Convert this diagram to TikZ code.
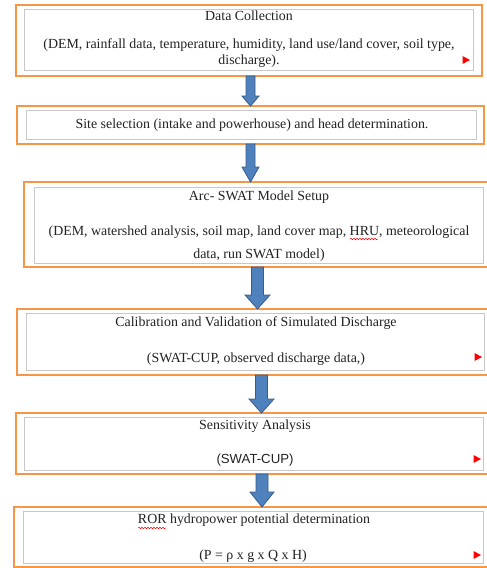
\documentclass[tikz,border=0pt]{standalone}
\usepackage{fontspec}
\setmainfont{Liberation Serif}
\newfontfamily\uisans{Liberation Sans}
\usetikzlibrary{calc,decorations.pathmorphing}
\definecolor{boxorange}{HTML}{F79646}
\definecolor{innergray}{HTML}{C8C8C8}
\definecolor{arrfill}{HTML}{4F81BD}
\definecolor{arrline}{HTML}{385D8A}
\definecolor{txt}{HTML}{222222}
\tikzset{
  outerbox/.style={draw=boxorange, line width=2pt, inner sep=0pt, outer sep=0pt, rectangle},
  innerbox/.style={draw=innergray, line width=1pt, inner sep=0pt, outer sep=0pt, rectangle, fill=white},
  txtline/.style={inner sep=0pt, anchor=mid, text=txt, font=\fontsize{13.9}{16}\selectfont},
  sansline/.style={inner sep=0pt, anchor=mid, text=txt, font=\uisans\fontsize{13.2}{15}\selectfont},
  barrow/.style={fill=arrfill, draw=arrline, line width=0.8pt, line join=miter},
  redtri/.style={fill=red, draw=none},
  squiggle/.style={draw=red, line width=0.5pt, decorate, decoration={snake, amplitude=0.8pt, segment length=3pt}}
}
% #1 from node, #2 to node, #3 x, #4 shaft half width, #5 head half width, #6 head length
\newcommand\blockarr[6]{%
  \draw[barrow] let \p1=(#1.south), \p2=(#2.north) in
    (#3pt-#4pt,\y1) -- (#3pt-#4pt,\y2+#6pt) -- (#3pt-#5pt,\y2+#6pt) -- (#3pt,\y2)
    -- (#3pt+#5pt,\y2+#6pt) -- (#3pt+#4pt,\y2+#6pt) -- (#3pt+#4pt,\y1) -- cycle;}
\newcommand\rtri[3]{\fill[redtri] (#2-3.5,#3-4) -- (#2+4,#3) -- (#2-3.5,#3+4) -- cycle;}
\begin{document}
\begin{tikzpicture}[x=1pt,y=-1pt]
\useasboundingbox (0,0) rectangle (487,568);
\fill[white] (0,0) rectangle (487,568);

% Box 1
\node[outerbox, minimum width=466pt, minimum height=71pt] (o1) at (249,40.5) {};
\node[innerbox, minimum width=449pt, minimum height=61pt] (i1) at (248.5,39.5) {};
\node[txtline] (t1a) at (249,18) {Data Collection};
\node[txtline] (t1b) at (249,46) {(DEM, rainfall data, temperature, humidity, land use/land cover, soil type,};
\node[txtline] (t1c) at (249,62) {discharge).};
\rtri{r1}{466}{60}

% Box 2
\node[outerbox, minimum width=467pt, minimum height=38pt] (o2) at (250.5,125) {};
\node[innerbox, minimum width=450pt, minimum height=29pt] (i2) at (251,124.5) {};
\node[txtline] (t2) at (252,126.5) {Site selection (intake and powerhouse) and head determination.};

% Box 3
\node[outerbox, minimum width=466pt, minimum height=85pt] (o3) at (257,224.5) {};
\node[innerbox, minimum width=449pt, minimum height=76pt] (i3) at (258.5,225) {};
\node[txtline] (t3a) at (259,198) {Arc- SWAT Model Setup};
\node[txtline] (t3b) at (259,233) {(DEM, watershed analysis, soil map, land cover map, HRU, meteorological};
\node[txtline] (t3c) at (259,256) {data, run SWAT model)};
\draw[squiggle] (350,239) -- (378,239);

% Box 4
\node[outerbox, minimum width=473pt, minimum height=66pt] (o4) at (253.5,342) {};
\node[innerbox, minimum width=458pt, minimum height=57pt] (i4) at (255,341.5) {};
\node[txtline] (t4a) at (256,324) {Calibration and Validation of Simulated Discharge};
\node[txtline] (t4b) at (256,360) {(SWAT-CUP, observed discharge data,)};
\rtri{r4}{478}{357}

% Box 5
\node[outerbox, minimum width=474pt, minimum height=61pt] (o5) at (253,443.5) {};
\node[innerbox, minimum width=459pt, minimum height=53pt] (i5) at (253.5,443.5) {};
\node[txtline] (t5a) at (255,427) {Sensitivity Analysis};
\node[sansline] (t5b) at (255,461) {(SWAT-CUP)};
\rtri{r5}{477}{459}

% Box 6
\node[outerbox, minimum width=476pt, minimum height=60pt] (o6) at (252,537) {};
\node[innerbox, minimum width=460pt, minimum height=52pt] (i6) at (253,537) {};
\node[txtline] (t6a) at (254,521) {ROR hydropower potential determination};
\node[txtline] (t6b) at (253,557) {(P = ρ x g x Q x H)};
\draw[squiggle] (138,528) -- (166,528);
\rtri{r6}{477}{555}

% Arrows
\blockarr{o1}{o2}{250.5}{4.5}{8.5}{10}
\blockarr{o2}{o3}{250.5}{4.5}{8.5}{15}
\blockarr{o3}{o4}{257.5}{6}{12.5}{14}
\blockarr{o4}{o5}{261.5}{6}{12.5}{14}
\blockarr{o5}{o6}{262}{6}{12}{15}
\end{tikzpicture}
\end{document}
